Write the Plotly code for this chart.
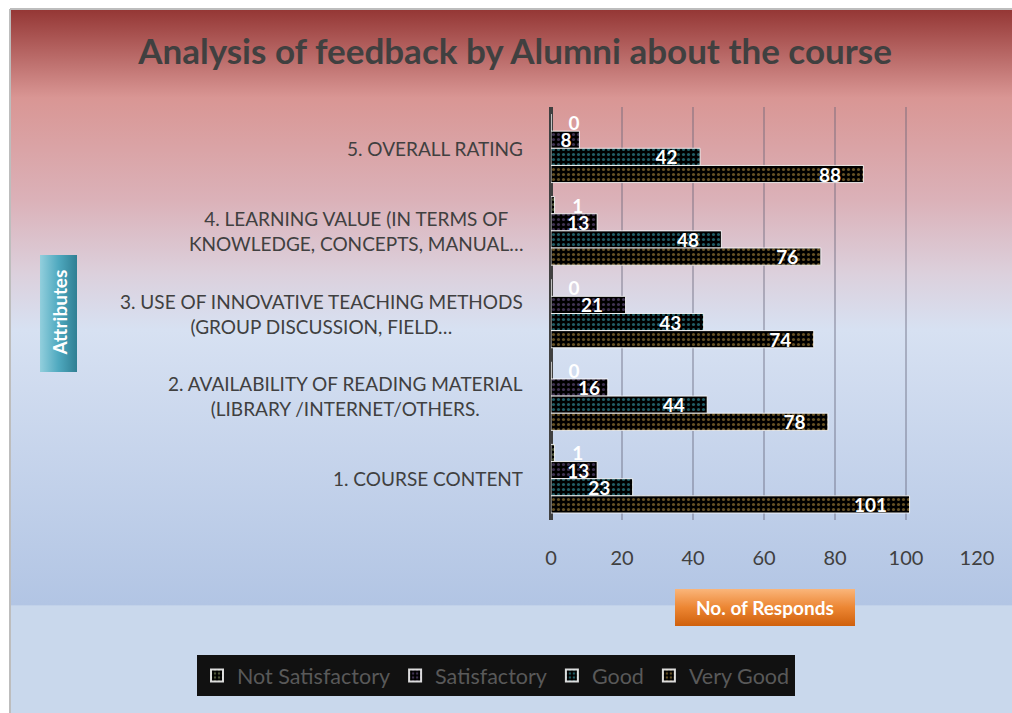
import base64
import plotly.graph_objects as go

# Données (de haut en bas)
attributes = [
    "5. OVERALL RATING",
    "4. LEARNING VALUE (IN TERMS OF<br>KNOWLEDGE, CONCEPTS, MANUAL…",
    "3. USE OF INNOVATIVE TEACHING METHODS<br>(GROUP DISCUSSION, FIELD…",
    "2. AVAILABILITY OF READING MATERIAL<br>(LIBRARY /INTERNET/OTHERS.",
    "1. COURSE CONTENT",
]
series_names = ["Not Satisfactory", "Satisfactory", "Good", "Very Good"]
not_satisfactory = [0, 1, 0, 0, 1]
satisfactory = [8, 13, 21, 16, 13]
good = [42, 48, 43, 44, 23]
very_good = [88, 76, 74, 78, 101]
x_ticks = [0, 20, 40, 60, 80, 100, 120]

series_values = [not_satisfactory, satisfactory, good, very_good]
dot_colors = ["#9aa870", "#8064a2", "#3fb8c8", "#c9a047"]

# --- géométrie de la zone de tracé (pixels) ---
W, H = 1012, 713
L, R, T, B = 551, 977, 107, 520
PW, PH = R - L, B - T


def px(x):
    return (x - L) / PW


def py(y):
    return (B - y) / PH


def gradient_svg(stops, vertical=True):
    x2, y2 = ("0", "1") if vertical else ("1", "0")
    st = "".join(f"<stop offset='{o}' stop-color='{c}'/>" for o, c in stops)
    svg = (
        "<svg xmlns='http://www.w3.org/2000/svg' width='100' height='100' "
        "viewBox='0 0 100 100' preserveAspectRatio='none'>"
        f"<defs><linearGradient id='g' x1='0' y1='0' x2='{x2}' y2='{y2}'>{st}</linearGradient></defs>"
        "<rect width='100' height='100' fill='url(#g)'/></svg>"
    )
    return "data:image/svg+xml;base64," + base64.b64encode(svg.encode()).decode()


bg_stops = [
    (0.0, "#943634"), (0.126, "#d99694"), (0.27, "#dbb1b8"),
    (0.375, "#dcd0dc"), (0.456, "#d7e1f2"), (0.846, "#b2c5e4"),
    (0.848, "#c9d8ec"), (1.0, "#c9d8ec"),
]
teal_stops = [(0.0, "#93cfdd"), (0.5, "#4fa9bf"), (1.0, "#2f7f93")]
orange_stops = [(0.0, "#fab57a"), (0.5, "#ec8633"), (1.0, "#cf600c")]

NB = "\u00a0"


def bar_label(v):
    # étiquette blanche en gras, à l'intérieur près de l'extrémité (ou juste après si trop petit)
    if v < 5:
        return NB * 3 + f"<b>{v}</b>"
    return f"<b>{v}</b>" + (NB * 4 if v >= 20 else NB)


fig = go.Figure()

for name, vals, col in zip(series_names, series_values, dot_colors):
    fig.add_trace(go.Bar(
        name=name,
        y=attributes,
        x=vals,
        orientation="h",
        marker=dict(
            color="black",
            line=dict(color="rgba(255,255,255,0.85)", width=1),
            pattern=dict(shape=".", fgcolor=col, bgcolor="black", size=5, solidity=0.3),
        ),
        text=[bar_label(v) for v in vals],
        textposition=["inside" if v >= 5 else "outside" for v in vals],
        insidetextanchor="end",
        constraintext="none",
        textangle=0,
        textfont=dict(family="Lato", size=19, color="white"),
        cliponaxis=False,
    ))

images = [
    dict(source=gradient_svg(bg_stops), xref="paper", yref="paper",
         x=px(10), y=py(9), sizex=(W - 10) / PW, sizey=(H - 9) / PH,
         xanchor="left", yanchor="top", sizing="stretch", layer="below"),
    dict(source=gradient_svg(teal_stops, vertical=False), xref="paper", yref="paper",
         x=px(40), y=py(255), sizex=37 / PW, sizey=117 / PH,
         xanchor="left", yanchor="top", sizing="stretch", layer="above"),
    dict(source=gradient_svg(orange_stops), xref="paper", yref="paper",
         x=px(675), y=py(589), sizex=180 / PW, sizey=37 / PH,
         xanchor="left", yanchor="top", sizing="stretch", layer="above"),
]

annotations = [
    dict(text=a, x=0, y=a, xref="paper", yref="y", xanchor="right", yanchor="middle",
         xshift=-26, align="center", showarrow=False,
         font=dict(family="Lato", size=19, color="#404040"))
    for a in attributes
]
annotations += [
    dict(text="<b>Attributes</b>", x=px(58.5), y=py(313), xref="paper", yref="paper",
         xanchor="center", yanchor="middle",
         textangle=-90, showarrow=False, font=dict(family="Lato", size=19, color="white")),
    dict(text="<b>No. of Responds</b>", x=px(765), y=py(607), xref="paper", yref="paper",
         xanchor="center", yanchor="middle",
         showarrow=False, font=dict(family="Lato", size=19, color="white")),
]

shapes = [
    dict(type="line", xref="paper", yref="paper", x0=px(10), x1=px(10), y0=py(9), y1=py(H),
         line=dict(color="#bdbdbd", width=2)),
    dict(type="line", xref="paper", yref="paper", x0=px(10), x1=px(W), y0=py(9), y1=py(9),
         line=dict(color="#bdbdbd", width=2)),
]

fig.update_layout(
    width=W, height=H,
    margin=dict(l=L, r=W - R, t=T, b=H - B, autoexpand=False),
    paper_bgcolor="white",
    plot_bgcolor="rgba(0,0,0,0)",
    barmode="group",
    bargap=0.17,
    bargroupgap=0,
    title=dict(
        text="<b>Analysis of feedback by Alumni about the course</b>",
        x=515 / W, xanchor="center", y=1 - 52 / H, yanchor="middle",
        font=dict(family="Lato", size=35, color="#404040"),
    ),
    xaxis=dict(
        range=[0, 120], tickvals=x_ticks, showgrid=True,
        gridcolor="rgba(95,95,115,0.38)", gridwidth=2,
        zeroline=True, zerolinecolor="#404040", zerolinewidth=4,
        ticks="", ticklabelstandoff=24,
        tickfont=dict(family="Lato", size=20, color="#404040"),
    ),
    yaxis=dict(
        categoryorder="array", categoryarray=attributes,
        range=[4.5, -0.5], showticklabels=False, showgrid=False, zeroline=False,
    ),
    legend=dict(
        orientation="h", xref="paper", yref="paper",
        x=px(197), xanchor="left", y=py(655), yanchor="top",
        bgcolor="#111111", font=dict(family="Lato", size=21.5, color="#595959"),
        itemwidth=30, itemsizing="constant",
    ),
    images=images,
    annotations=annotations,
    shapes=shapes,
)

# la page ne doit pas avoir de marge pour tenir dans la fenêtre
fig.write_html(
    "out.html",
    config={"displayModeBar": False},
    post_script="document.body.style.margin='0px';",
)
